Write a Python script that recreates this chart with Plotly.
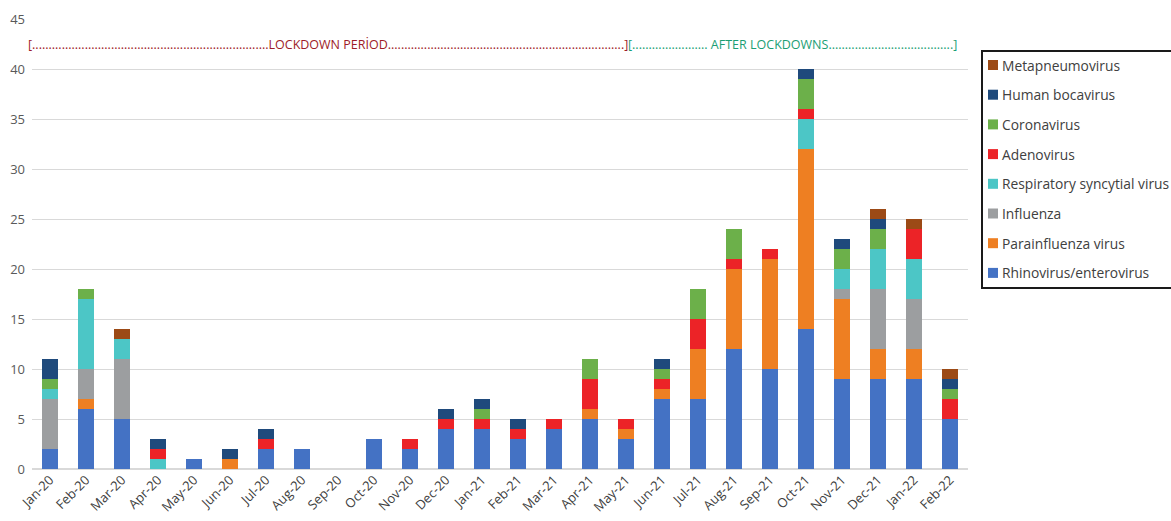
import plotly.graph_objects as go

months = ["Jan-20", "Feb-20", "Mar-20", "Apr-20", "May-20", "Jun-20", "Jul-20", "Aug-20",
          "Sep-20", "Oct-20", "Nov-20", "Dec-20", "Jan-21", "Feb-21", "Mar-21", "Apr-21",
          "May-21", "Jun-21", "Jul-21", "Aug-21", "Sep-21", "Oct-21", "Nov-21", "Dec-21",
          "Jan-22", "Feb-22"]

rhinovirus     = [2, 6, 5, 0, 1, 0, 2, 2, 0, 3, 2, 4, 4, 3, 4, 5, 3, 7, 7, 12, 10, 14, 9, 9, 9, 5]
parainfluenza  = [0, 1, 0, 0, 0, 1, 0, 0, 0, 0, 0, 0, 0, 0, 0, 1, 1, 1, 5, 8, 11, 18, 8, 3, 3, 0]
influenza      = [5, 3, 6, 0, 0, 0, 0, 0, 0, 0, 0, 0, 0, 0, 0, 0, 0, 0, 0, 0, 0, 0, 1, 6, 5, 0]
rsv            = [1, 7, 2, 1, 0, 0, 0, 0, 0, 0, 0, 0, 0, 0, 0, 0, 0, 0, 0, 0, 0, 3, 2, 4, 4, 0]
adenovirus     = [0, 0, 0, 1, 0, 0, 1, 0, 0, 0, 1, 1, 1, 1, 1, 3, 1, 1, 3, 1, 1, 1, 0, 0, 3, 2]
coronavirus    = [1, 1, 0, 0, 0, 0, 0, 0, 0, 0, 0, 0, 1, 0, 0, 2, 0, 1, 3, 3, 0, 3, 2, 2, 0, 1]
bocavirus      = [2, 0, 0, 1, 0, 1, 1, 0, 0, 0, 0, 1, 1, 1, 0, 0, 0, 1, 0, 0, 0, 1, 1, 1, 0, 1]
metapneumo     = [0, 0, 1, 0, 0, 0, 0, 0, 0, 0, 0, 0, 0, 0, 0, 0, 0, 0, 0, 0, 0, 0, 0, 1, 1, 1]

series = [
    ("Rhinovirus/enterovirus", rhinovirus, "#4472C4"),
    ("Parainfluenza virus", parainfluenza, "#EE7F22"),
    ("Influenza", influenza, "#9C9EA0"),
    ("Respiratory syncytial virus", rsv, "#4CC6C6"),
    ("Adenovirus", adenovirus, "#EC2327"),
    ("Coronavirus", coronavirus, "#6CB04A"),
    ("Human bocavirus", bocavirus, "#1F4A7C"),
    ("Metapneumovirus", metapneumo, "#9C4A16"),
]

fig = go.Figure()
for name, vals, color in series:
    fig.add_trace(go.Bar(
        x=months, y=vals, name=name, marker_color=color,
        marker_line_width=0, showlegend=False,
    ))

W, H = 1171, 521
ml, mr, mt, mb = 32, 203, 19, 52
pw = W - ml - mr
ph = H - mt - mb

def px_x(x):
    return (x - ml) / pw

def px_y(y):
    return (H - mb - y) / ph

label_font = dict(family="Open Sans, Arial, sans-serif", size=12.5)

fig.add_annotation(
    text="[" + "." * 72 + "LOCKDOWN PERİOD" + "." * 72 + "]",
    xref="paper", yref="paper", x=px_x(328), y=px_y(44),
    xanchor="center", yanchor="middle", showarrow=False,
    font=dict(label_font, color="#9E1B28"),
)
fig.add_annotation(
    text="[" + "." * 23 + " AFTER LOCKDOWNS" + "." * 38 + "]",
    xref="paper", yref="paper", x=px_x(792), y=px_y(44),
    xanchor="center", yanchor="middle", showarrow=False,
    font=dict(label_font, color="#1A9E74"),
)

# Boxed key on the right: swatch + label per virus, top entry = last stacked series
fig.add_shape(
    type="rect", xref="paper", yref="paper",
    x0=px_x(982), x1=px_x(1185), y0=px_y(51), y1=px_y(288),
    line=dict(color="#1A1A1A", width=2), fillcolor="white", layer="above",
)
row0, step = 65, 29.7
for k, (name, vals, color) in enumerate(reversed(series)):
    yc = row0 + k * step
    fig.add_shape(
        type="rect", xref="paper", yref="paper",
        x0=px_x(988), x1=px_x(998), y0=px_y(yc - 5), y1=px_y(yc + 5),
        line_width=0, fillcolor=color, layer="above",
    )
    fig.add_annotation(
        text=name, xref="paper", yref="paper", x=px_x(1000), y=px_y(yc),
        xanchor="left", yanchor="middle", showarrow=False,
        font=dict(family="Open Sans, Arial, sans-serif", size=13.8, color="#404040"),
    )

fig.update_layout(
    barmode="stack",
    bargap=0.58,
    width=W, height=H,
    margin=dict(l=ml, r=mr, t=mt, b=mb, autoexpand=False),
    plot_bgcolor="white", paper_bgcolor="white",
    showlegend=False,
    font=dict(family="Open Sans, Arial, sans-serif", color="#595959"),
    xaxis=dict(
        tickangle=-45, tickfont=dict(size=13, color="#404040"),
        showgrid=False, showline=False, ticks="", automargin=False,
    ),
    yaxis=dict(
        range=[0, 45], dtick=5, gridcolor="#D9D9D9", gridwidth=1,
        tickfont=dict(size=13, color="#595959"), zeroline=True,
        zerolinecolor="#D9D9D9", ticks="", ticklabelstandoff=6, automargin=False,
    ),
)

fig.write_html("out.html")
